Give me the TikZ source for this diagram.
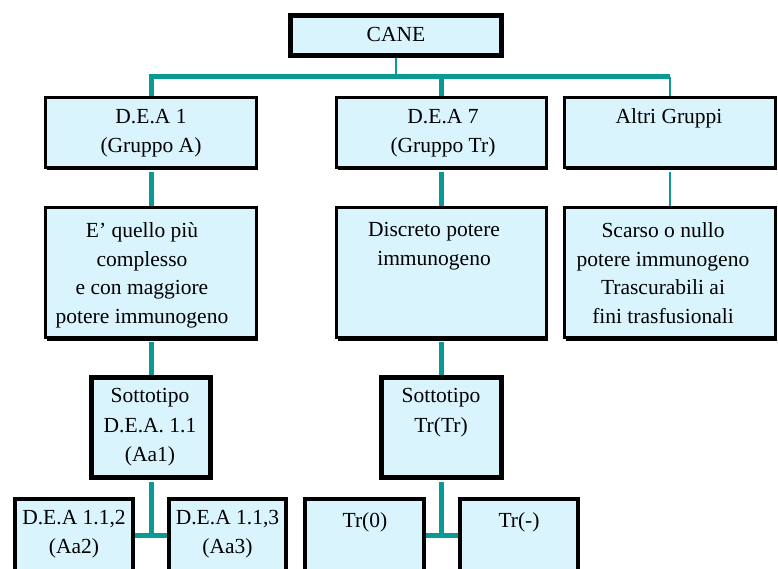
\documentclass[tikz,border=0pt]{standalone}
\usepackage{fontspec}
\setmainfont{Liberation Serif}
\usetikzlibrary{shadows}
\definecolor{boxfill}{HTML}{D9F4FD}
\definecolor{tealc}{HTML}{0A9A96}
\begin{document}
\begin{tikzpicture}[x=1pt,y=-1pt,
  box/.style={draw=black, fill=boxfill, inner sep=0pt},
  shd/.style={drop shadow={shadow xshift=1pt, shadow yshift=-3pt, fill=black, opacity=1}},
  shds/.style={drop shadow={shadow xshift=0pt, shadow yshift=-2pt, fill=black, opacity=1}},
  txt/.style={font=\fontsize{21.5}{28.5}\selectfont, align=center, inner sep=0pt, anchor=north,
    yshift=14.5pt},
  txtw/.style={txt, font=\fontsize{21.5}{29.5}\selectfont},
  thickc/.style={draw=tealc, line width=5pt},
  thinc/.style={draw=tealc, line width=2.2pt}]
\clip (0,0) rectangle (778,569);
\fill[white] (0,0) rectangle (778,569);
\coordinate (hb) at (0,77);
\coordinate (hb1) at (0,535);
% boxes
\node[box, line width=5pt, minimum width=211pt, minimum height=40pt] (cane) at (396,35.5) {};
\node[box, shd, line width=3pt, minimum width=211pt, minimum height=70pt] (dea1) at (151,132.5) {};
\node[box, shd, line width=3pt, minimum width=210pt, minimum height=70pt] (dea7) at (441.5,132.5) {};
\node[box, shd, line width=3pt, minimum width=211pt, minimum height=70pt] (alt) at (670,132.5) {};
\node[box, shd, line width=3pt, minimum width=211pt, minimum height=130pt] (comp) at (151,272.5) {};
\node[box, shd, line width=3pt, minimum width=210pt, minimum height=130pt] (disc) at (441.5,272.5) {};
\node[box, shd, line width=3pt, minimum width=211pt, minimum height=130pt] (scar) at (670,272.5) {};
\node[box, shds, line width=5pt, minimum width=119pt, minimum height=100pt] (sa) at (151,427.5) {};
\node[box, shds, line width=5pt, minimum width=120pt, minimum height=100pt] (st) at (441.5,427.5) {};
\node[box, line width=4pt, minimum width=118pt, minimum height=96pt] (d12) at (74,547) {};
\node[box, line width=4pt, minimum width=117pt, minimum height=96pt] (d13) at (227.5,547) {};
\node[box, line width=4pt, minimum width=119pt, minimum height=96pt] (t0) at (364.5,547) {};
\node[box, line width=4pt, minimum width=118pt, minimum height=96pt] (tm) at (519,547) {};
% connectors
\draw[thinc] (cane.south) -- (cane.south |- hb);
\draw[thickc] (dea1.north) |- (alt.north |- hb);
\draw[thickc] (dea7.north) -- (dea7.north |- hb);
\draw[thinc] (alt.north) -- (alt.north |- hb);
\draw[thickc] ([yshift=-3pt]dea1.south) -- (comp.north);
\draw[thickc] ([yshift=-3pt]dea7.south) -- (disc.north);
\draw[thinc] ([yshift=-3pt]alt.south) -- (scar.north);
\draw[thickc] ([yshift=-3pt]comp.south) -- (sa.north);
\draw[thickc] ([yshift=-3pt]disc.south) -- (st.north);
\draw[thickc] ([yshift=-2pt]sa.south) -- (sa.south |- hb1);
\draw[thickc] (d12.east |- hb1) -- (d13.west |- hb1);
\draw[thickc] ([yshift=-2pt]st.south) -- (st.south |- hb1);
\draw[thickc] (t0.east |- hb1) -- (tm.west |- hb1);
% texts (coordinates are first-line baselines)
\node[txt] (canet) at (396,42) {CANE};
\node[txt] (dea1t) at (151,124) {D.E.A 1\\(Gruppo A)};
\node[txt] (dea7t) at (443,124) {D.E.A 7\\(Gruppo Tr)};
\node[txt] (altt) at (669,123) {Altri Gruppi};
\node[txt] (compt) at (142,237) {E' quello più\\complesso\\e con maggiore\\potere immunogeno};
\node[txt] (disct) at (434,237) {Discreto potere\\immunogeno};
\node[txt] (scart) at (663,237) {Scarso o nullo\\potere immunogeno\\Trascurabili ai\\fini trasfusionali};
\node[txtw] (sat) at (150,403) {Sottotipo\\D.E.A. 1.1\\(Aa1)};
\node[txtw] (stt) at (441,403) {Sottotipo\\Tr(Tr)};
\node[txt] (d12t) at (74,525) {D.E.A 1.1,2\\(Aa2)};
\node[txt] (d13t) at (227.5,525) {D.E.A 1.1,3\\(Aa3)};
\node[txt] (t0t) at (365,527) {Tr(0)};
\node[txt] (tmt) at (519,527) {Tr(-)};
\end{tikzpicture}
\end{document}
